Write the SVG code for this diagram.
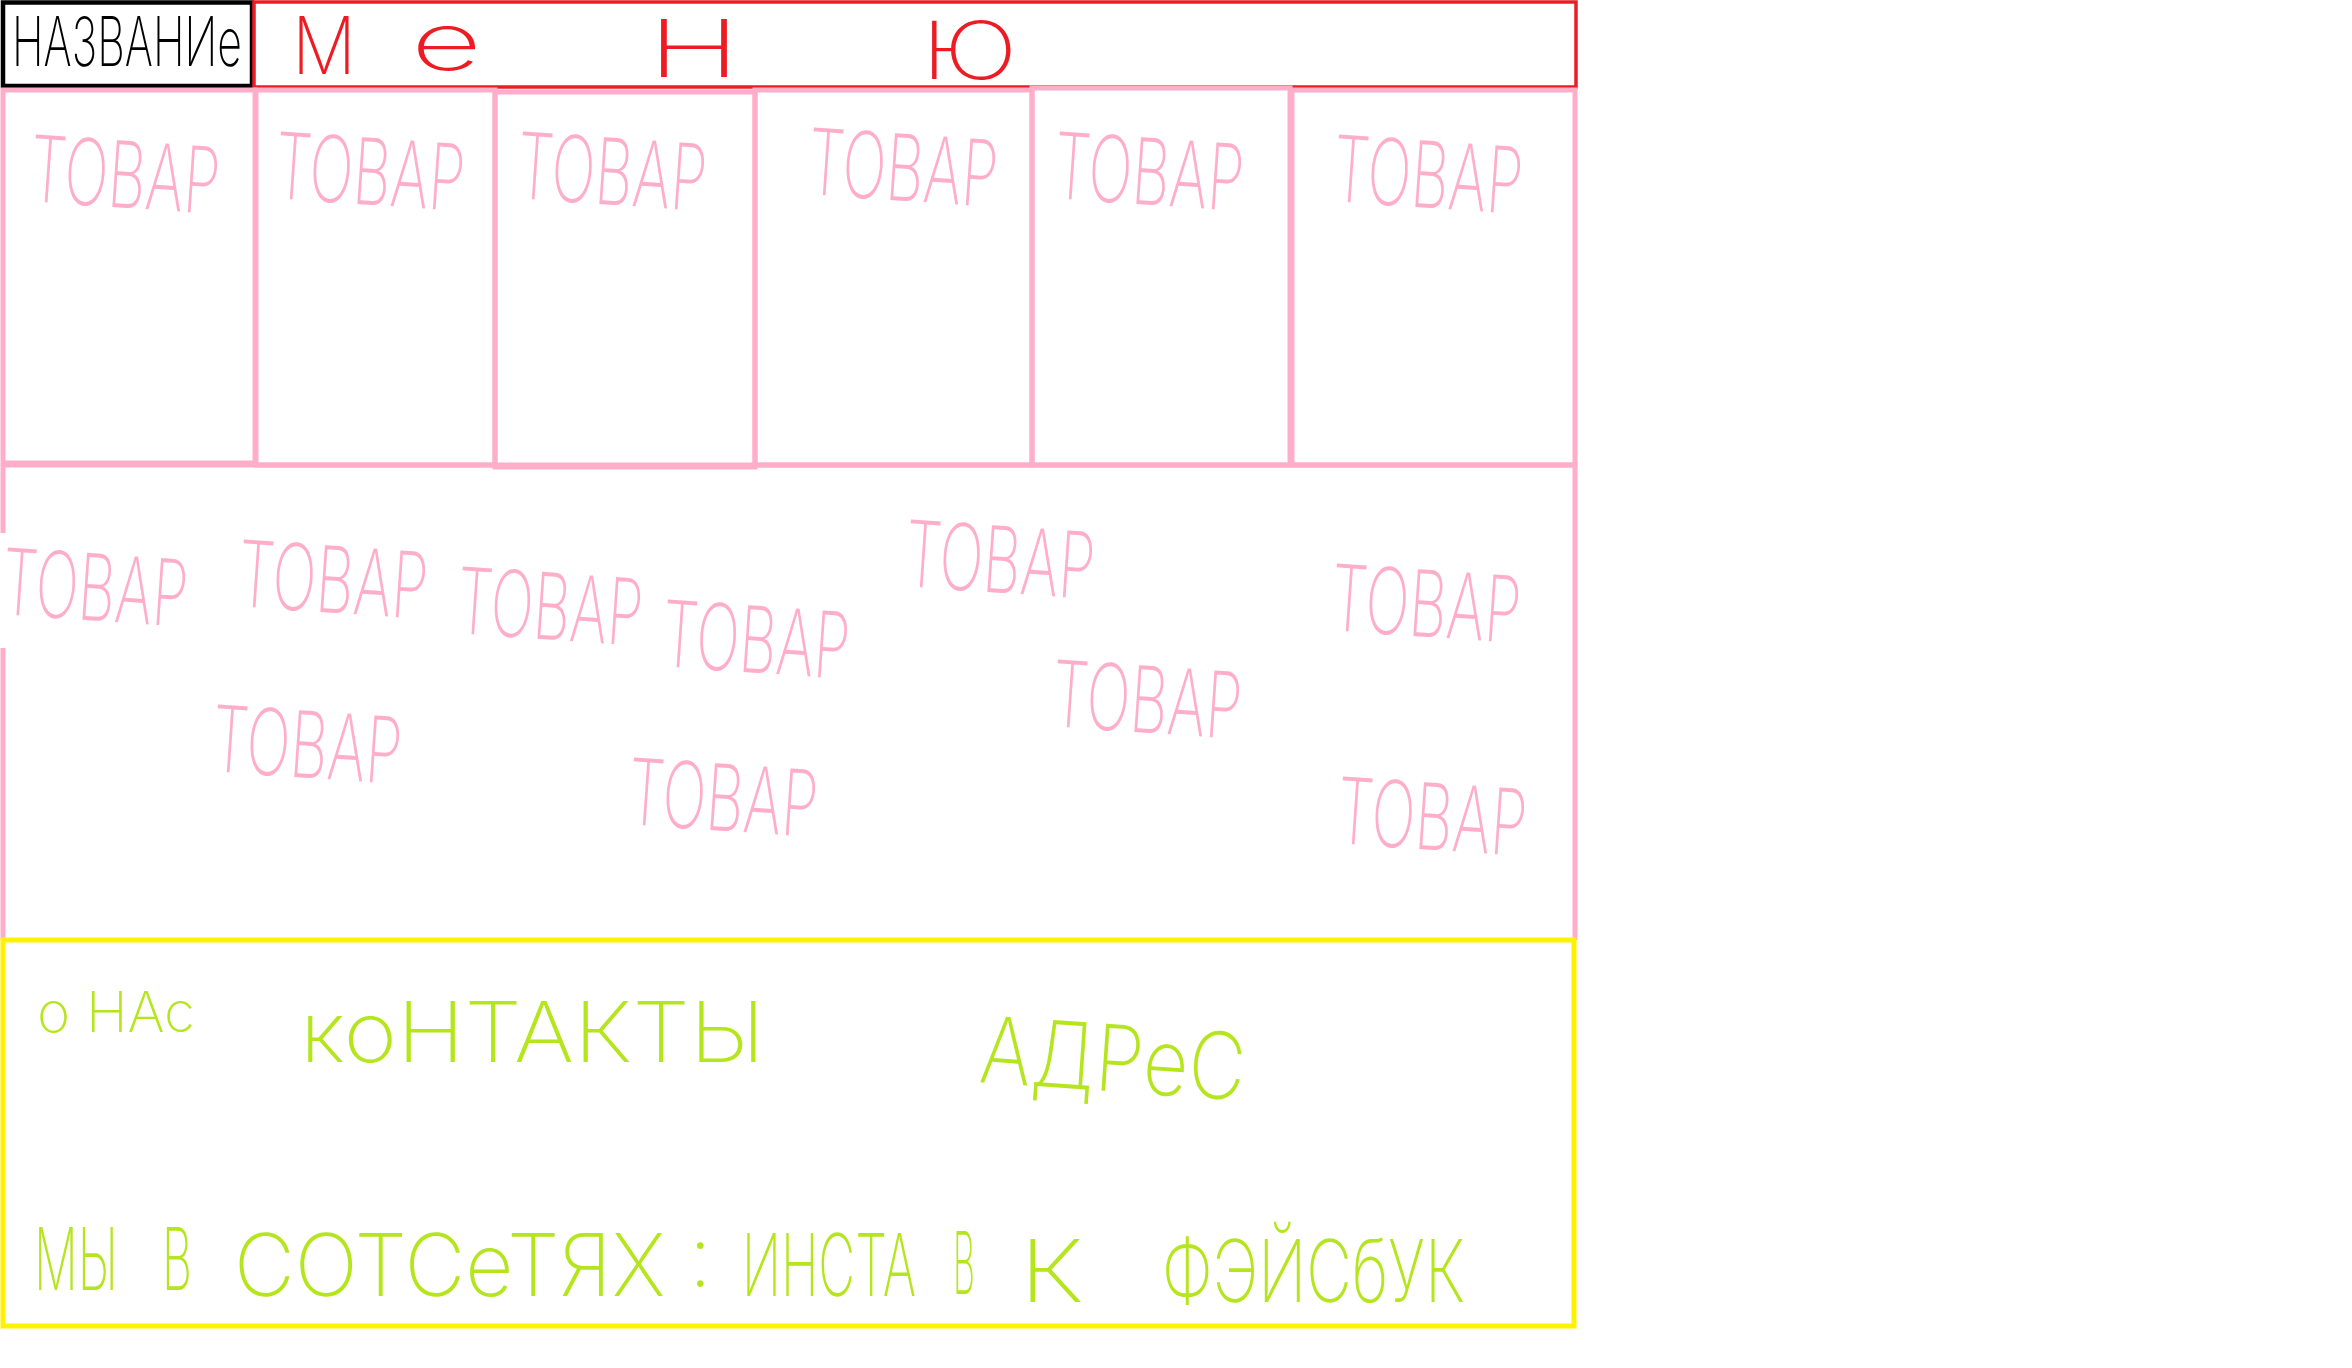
<svg xmlns="http://www.w3.org/2000/svg" width="2352" height="1368" viewBox="0 0 2352 1368">
<style>
.t{font-family:Inter,"Open Sans","DejaVu Sans",sans-serif;font-weight:200}
.pk{fill:none;stroke:#FFAEC9;stroke-width:5}
.tov{font-size:92px;fill:#FFAEC9}
.gr{fill:#B5E61D}
.rd{fill:#ED1C24;font-size:80px}
</style>
<rect width="2352" height="1368" fill="#fff"/>
<g id="name-box">
<rect x="3" y="2.5" width="249" height="83.5" fill="none" stroke="#000" stroke-width="4.5"/>
<text class="t" x="12" y="66" font-size="68" textLength="230" lengthAdjust="spacingAndGlyphs">НАЗВАНИе</text>
</g>
<g id="menu-box">
<rect x="254" y="2" width="1322" height="85" fill="none" stroke="#ED1C24" stroke-width="3.5"/>
<text class="t rd" x="292" y="74" textLength="64" lengthAdjust="spacingAndGlyphs">М</text>
<text class="t rd" x="411" y="70" textLength="71" lengthAdjust="spacingAndGlyphs">е</text>
<text class="t rd" x="648" y="77" textLength="92" lengthAdjust="spacingAndGlyphs">Н</text>
<text class="t rd" x="922" y="79" textLength="95" lengthAdjust="spacingAndGlyphs">Ю</text>
</g>
<g id="catalog">
<path class="pk" d="M3 465 V533 M3 648 V940 M3 465 H1575 V940"/>
<g class="t tov">
<text transform="translate(0,614) rotate(4)" textLength="186" lengthAdjust="spacingAndGlyphs">ТОВАР</text>
<text transform="translate(236,606) rotate(4)" textLength="190" lengthAdjust="spacingAndGlyphs">ТОВАР</text>
<text transform="translate(455,633) rotate(4)" textLength="186" lengthAdjust="spacingAndGlyphs">ТОВАР</text>
<text transform="translate(660,666) rotate(4)" textLength="188" lengthAdjust="spacingAndGlyphs">ТОВАР</text>
<text transform="translate(210,771) rotate(4)" textLength="190" lengthAdjust="spacingAndGlyphs">ТОВАР</text>
<text transform="translate(626,824) rotate(4)" textLength="190" lengthAdjust="spacingAndGlyphs">ТОВАР</text>
<text transform="translate(903,586) rotate(4)" textLength="190" lengthAdjust="spacingAndGlyphs">ТОВАР</text>
<text transform="translate(1050,726) rotate(4)" textLength="190" lengthAdjust="spacingAndGlyphs">ТОВАР</text>
<text transform="translate(1329,630) rotate(4)" textLength="190" lengthAdjust="spacingAndGlyphs">ТОВАР</text>
<text transform="translate(1335,843) rotate(4)" textLength="190" lengthAdjust="spacingAndGlyphs">ТОВАР</text>
</g>
</g>
<g id="cell-1"><rect class="pk" x="3" y="90" width="252" height="373"/><text class="t tov" transform="translate(28,201) rotate(4)" textLength="190" lengthAdjust="spacingAndGlyphs">ТОВАР</text></g>
<g id="cell-2"><rect class="pk" x="256" y="90" width="239" height="375"/><text class="t tov" transform="translate(273,198) rotate(4)" textLength="190" lengthAdjust="spacingAndGlyphs">ТОВАР</text></g>
<g id="cell-3"><rect class="pk" x="495" y="92" width="260" height="375"/><text class="t tov" transform="translate(515,198) rotate(4)" textLength="190" lengthAdjust="spacingAndGlyphs">ТОВАР</text></g>
<g id="cell-4"><rect class="pk" x="755" y="90" width="277" height="375"/><text class="t tov" transform="translate(806,194) rotate(4)" textLength="190" lengthAdjust="spacingAndGlyphs">ТОВАР</text></g>
<g id="cell-5"><rect class="pk" x="1032" y="88" width="258" height="377"/><text class="t tov" transform="translate(1052,198) rotate(4)" textLength="190" lengthAdjust="spacingAndGlyphs">ТОВАР</text></g>
<g id="cell-6"><rect class="pk" x="1292" y="90" width="283" height="375"/><text class="t tov" transform="translate(1331,201) rotate(4)" textLength="190" lengthAdjust="spacingAndGlyphs">ТОВАР</text></g>
<g id="footer">
<rect x="3" y="940" width="1571" height="386" fill="none" stroke="#FFF200" stroke-width="5"/>
<g class="t gr">
<text x="37" y="1032" font-size="56" textLength="158" lengthAdjust="spacingAndGlyphs">о НАс</text>
<text x="300" y="1062" font-size="84" textLength="465" lengthAdjust="spacingAndGlyphs">коНТАКТЫ</text>
<text transform="translate(978,1082) rotate(4)" font-size="92" textLength="266" lengthAdjust="spacingAndGlyphs">АДРеС</text>
<text x="34" y="1290" font-size="86" textLength="84" lengthAdjust="spacingAndGlyphs">МЫ</text>
<text x="162" y="1290" font-size="86" textLength="30" lengthAdjust="spacingAndGlyphs">В</text>
<text x="234" y="1296" font-size="86" textLength="478" lengthAdjust="spacingAndGlyphs">СОТСеТЯХ :</text>
<text x="742" y="1296" font-size="86" textLength="174" lengthAdjust="spacingAndGlyphs">ИНСТА</text>
<text x="953" y="1294" font-size="86" textLength="22" lengthAdjust="spacingAndGlyphs">В</text>
<text x="1020" y="1302" font-size="86" textLength="64" lengthAdjust="spacingAndGlyphs">К</text>
<text x="1162" y="1302" font-size="86" textLength="303" lengthAdjust="spacingAndGlyphs">ФЭЙСбУК</text>
</g>
</g>
</svg>
